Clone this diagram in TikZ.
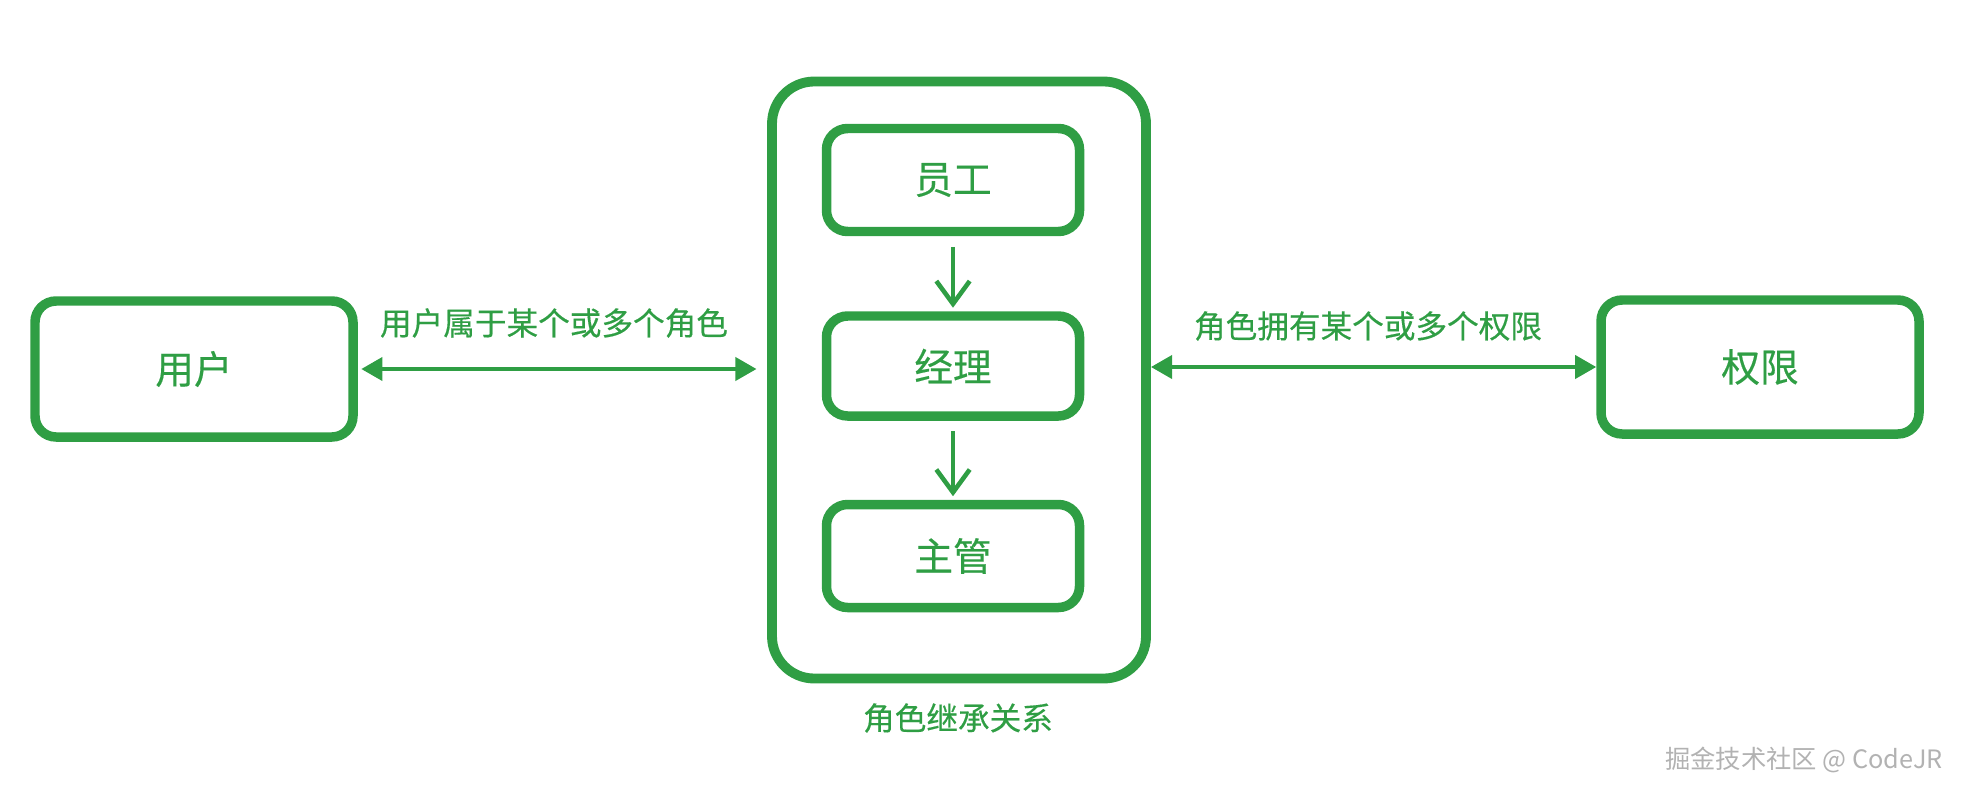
\documentclass[tikz,border=0pt]{standalone}
\usepackage{fontspec}
\setmainfont{Noto Sans CJK SC}
\newfontfamily\greenfont{Noto Sans CJK SC}[FakeBold=0.4]
\usetikzlibrary{arrows.meta}
\definecolor{exgreen}{HTML}{2F9E44}

\begin{document}
\begin{tikzpicture}
	[box/.style={draw=exgreen, line width=2.7pt, rounded corners=6pt, text=exgreen, inner sep=0pt, font=\greenfont\fontsize{11}{13}\selectfont},
	 frame/.style={draw=exgreen, line width=2.8pt, rounded corners=12pt},
	 note/.style={text=exgreen, inner sep=0pt, font=\greenfont\fontsize{9}{11}\selectfont},
	 wmark/.style={text=gray!60, inner sep=0pt, font=\fontsize{7.2}{9}\selectfont},
	 link/.style={exgreen, line width=1.2pt, {Triangle[length=6pt,width=6.5pt]}-{Triangle[length=6pt,width=6.5pt]}},
	 inherit/.style={exgreen, line width=1.3pt, -{Straight Barb[length=6.5pt,width=9.5pt]}}];

	\useasboundingbox (0,0) rectangle (19.64,7.96);

	%user
	\node[box, minimum width=3.18cm, minimum height=1.36cm] (user) at (1.94,4.27) {用户};

	%roles
	\node[frame, minimum width=3.74cm, minimum height=5.97cm] (roles) at (9.59,4.16) {};
	\node[box, minimum width=2.53cm, minimum height=1.03cm] (staff) at (9.53,6.16) {员工};
	\node[box, minimum width=2.53cm, minimum height=1.0cm] (manager) at (9.53,4.30) {经理};
	\node[box, minimum width=2.53cm, minimum height=1.03cm] (director) at (9.53,2.40) {主管};

	%permission
	\node[box, minimum width=3.18cm, minimum height=1.34cm] (perm) at (17.60,4.29) {权限};

	%links
	\draw[link, shorten <=1pt, shorten >=3pt] (user.east) -- (user.east -| roles.west);
	\draw[link] (roles.east |- perm.west) -- (perm.west);
	\draw[inherit, shorten <=3pt, shorten >=1pt] (staff) -- (manager);
	\draw[inherit, shorten <=3pt, shorten >=1pt] (manager) -- (director);

	%labels
	\node[note] (userlabel) at (5.54,4.73) {用户属于某个或多个角色};
	\node[note] (permlabel) at (13.68,4.70) {角色拥有某个或多个权限};
	\node[note] (rolelabel) at (9.58,0.78) {角色继承关系};
	\node[wmark] (sign) at (18.04,0.36) {掘金技术社区 @ CodeJR};
\end{tikzpicture}
\end{document}
